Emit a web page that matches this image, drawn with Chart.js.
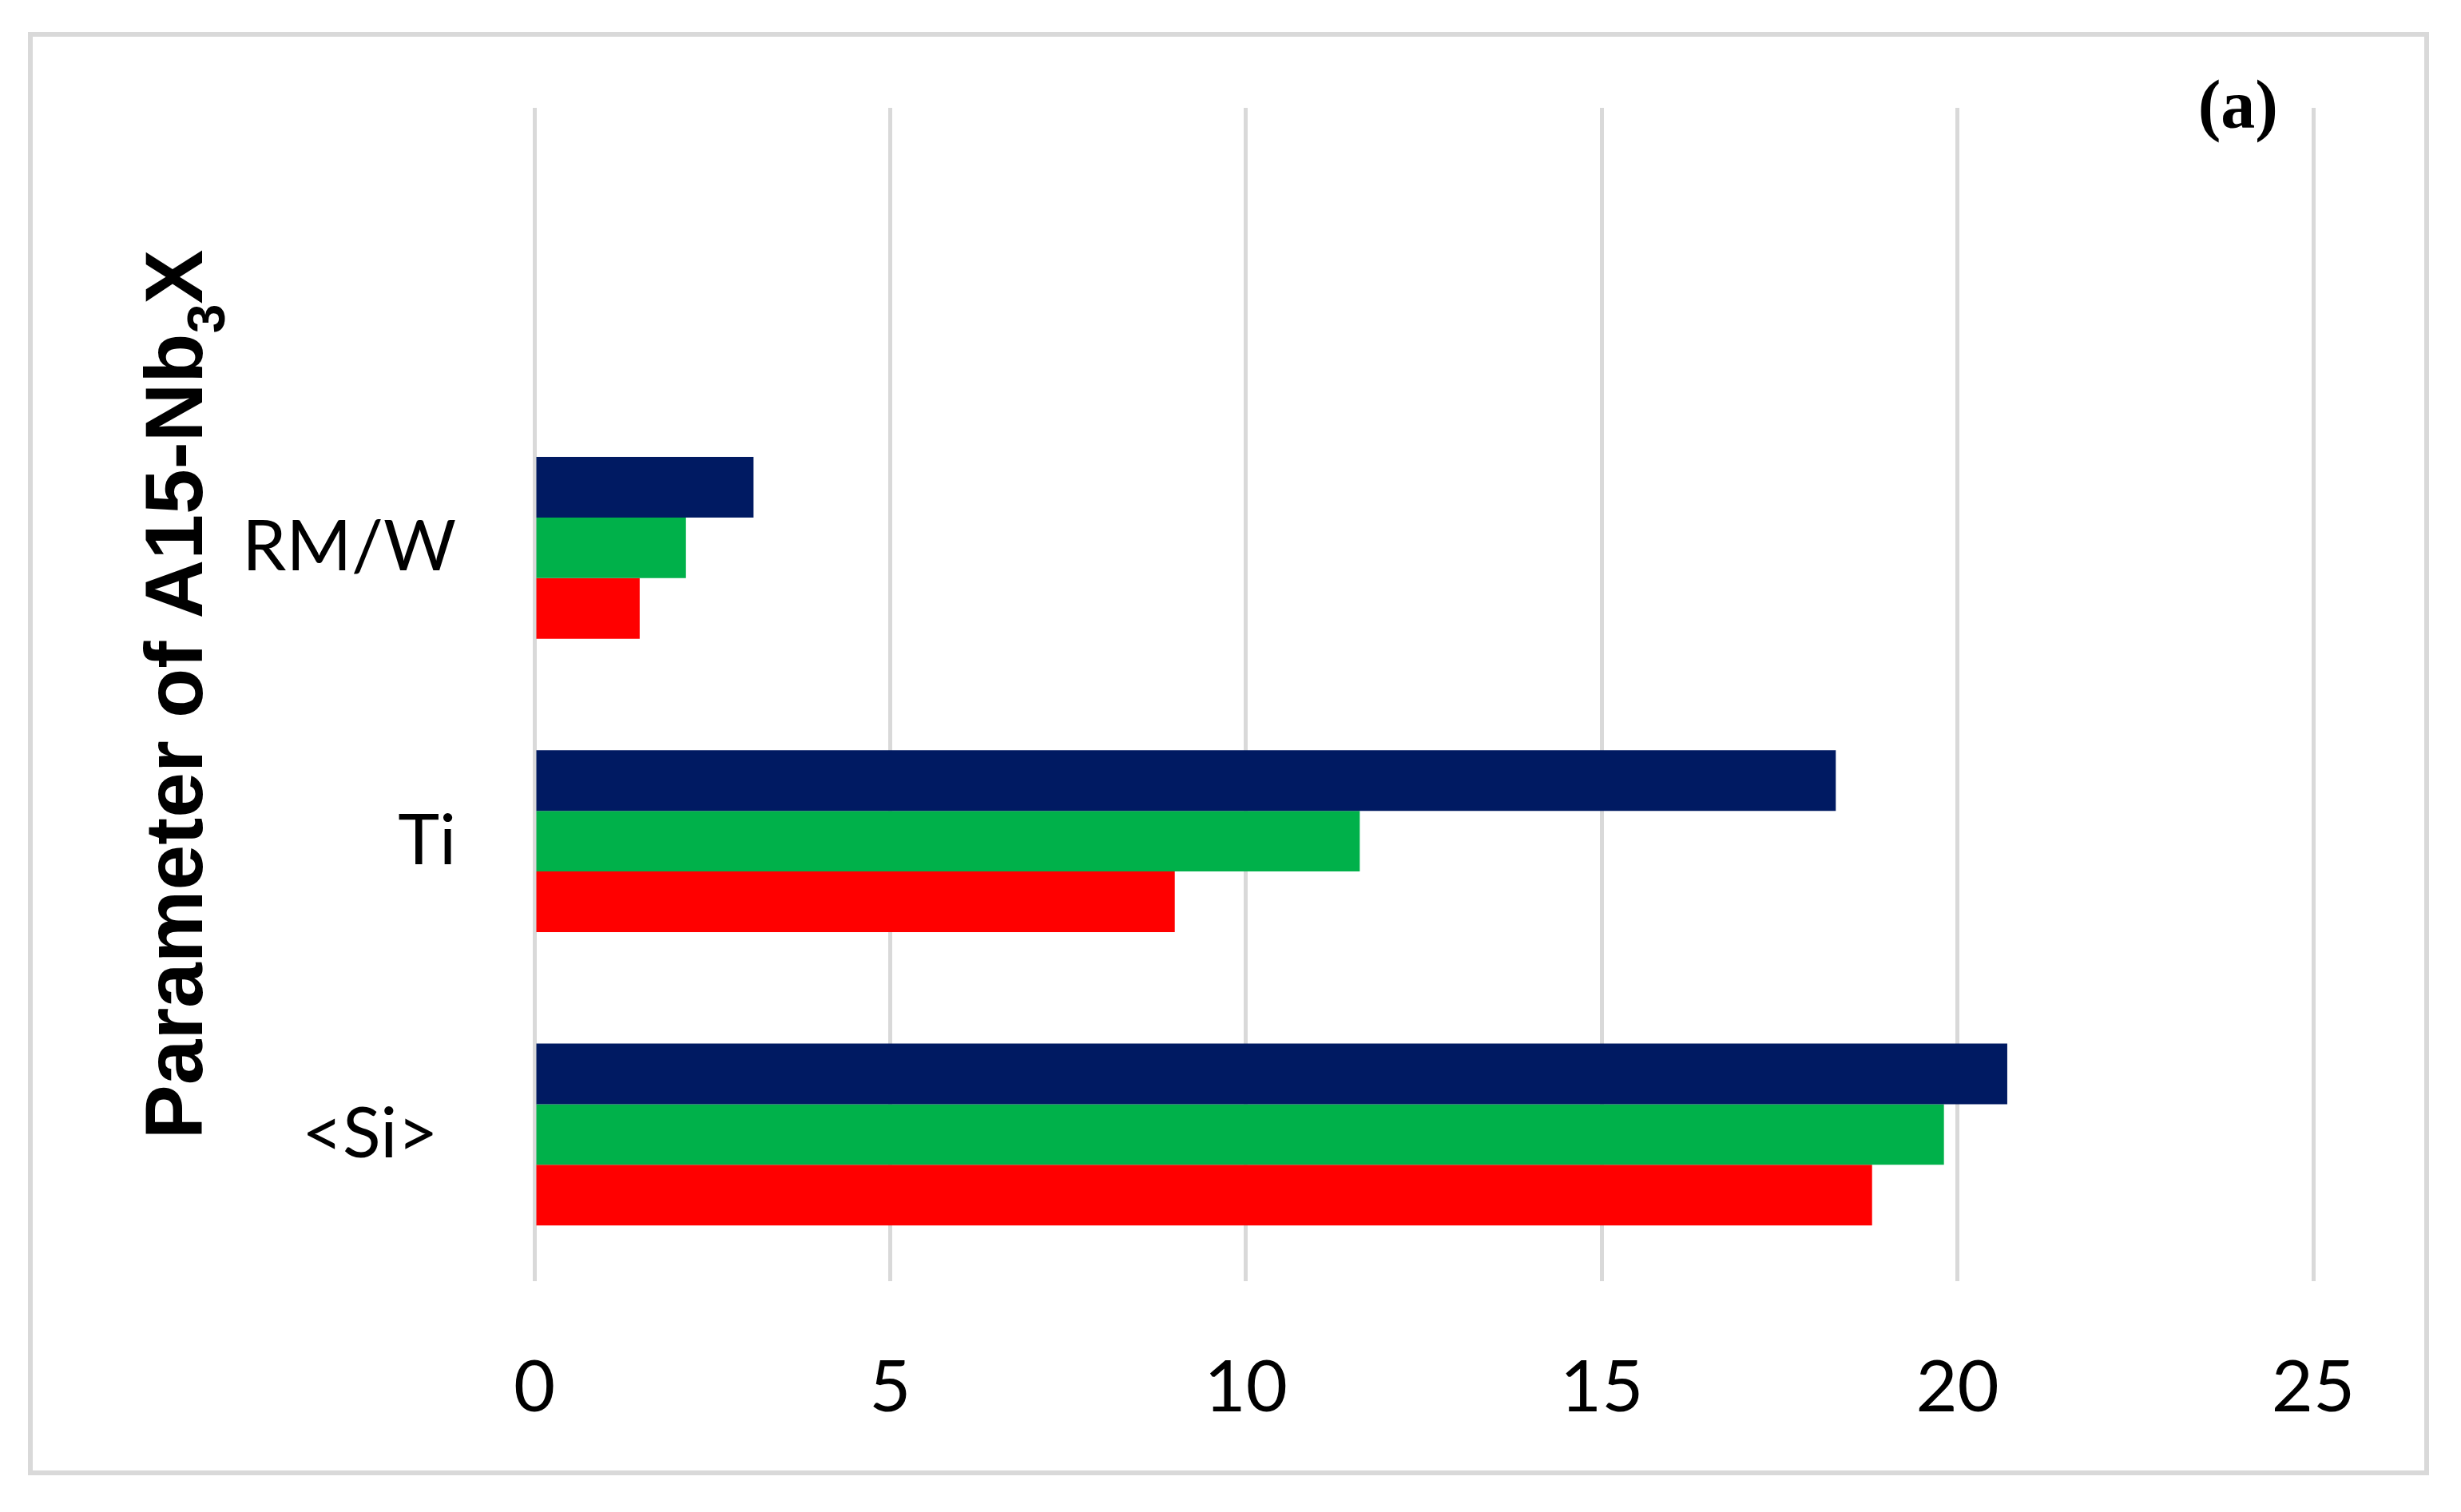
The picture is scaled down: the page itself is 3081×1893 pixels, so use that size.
<!DOCTYPE html>
<html lang="en">
<head>
    <meta charset="UTF-8">
    <title>Parameter of A15-Nb3X (a)</title>
    <script src="https://cdn.jsdelivr.net/npm/chart.js"></script>
    <style>
        * { margin: 0; padding: 0; box-sizing: border-box; }
        body { background: #fff; }
        .chart-box { position: relative; width: 3081px; height: 1893px; }
    </style>
</head>
<body>
    <div class="chart-box">
        <canvas id="paramChart"></canvas>
    </div>

    <script>
        // data (top slot is empty in the original)
        const categories = ['', 'RM/W', 'Ti', '<Si> '];
        const navySeries = [null, 3.08, 18.29, 20.70];
        const greenSeries = [null, 2.13, 11.60, 19.81];
        const redSeries = [null, 1.48, 9.00, 18.80];
        const xTicks = [0, 5, 10, 15, 20, 25];

        const labelFont = 'Lato, Calibri, sans-serif';

        // frame, panel letter and the rotated axis title with subscript
        const decorPlugin = {
            id: 'decor',
            afterDraw(chart) {
                const ctx = chart.ctx;
                const area = chart.chartArea;
                ctx.save();

                // outer light grey frame
                ctx.strokeStyle = '#d9d9d9';
                ctx.lineWidth = 6;
                ctx.strokeRect(38, 43, 3000, 1801);

                // (a)
                ctx.fillStyle = '#000';
                ctx.font = 'bold 86px "Liberation Serif", serif';
                ctx.textAlign = 'right';
                ctx.textBaseline = 'alphabetic';
                ctx.fillText('(a)', 2852, 160);

                // y axis title: Parameter of A15-Nb3X
                const big = 'bold 102px "Liberation Sans", Arial, sans-serif';
                const small = 'bold 66px "Liberation Sans", Arial, sans-serif';
                const parts = [
                    { t: 'Parameter of A15-Nb', f: big, dy: 0 },
                    { t: '3', f: small, dy: 28 },
                    { t: 'X', f: big, dy: 0 }
                ];
                let total = 0;
                parts.forEach(p => { ctx.font = p.f; p.w = ctx.measureText(p.t).width; total += p.w; });
                const cy = (area.top + area.bottom) / 2;
                ctx.translate(253, cy);
                ctx.rotate(-Math.PI / 2);
                ctx.textAlign = 'left';
                let x = -total / 2;
                parts.forEach(p => {
                    ctx.font = p.f;
                    ctx.fillText(p.t, x, p.dy);
                    x += p.w;
                });
                ctx.restore();
            }
        };

        const ctx = document.getElementById('paramChart').getContext('2d');
        new Chart(ctx, {
            type: 'bar',
            data: {
                labels: categories,
                datasets: [
                    { label: 'navy', data: navySeries, backgroundColor: '#001a62' },
                    { label: 'green', data: greenSeries, backgroundColor: '#00b14a' },
                    { label: 'red', data: redSeries, backgroundColor: '#ff0000' }
                ]
            },
            options: {
                indexAxis: 'y',
                responsive: true,
                maintainAspectRatio: false,
                animation: false,
                devicePixelRatio: 1,
                layout: {
                    padding: { top: 135, right: 185, bottom: 0, left: 0 }
                },
                datasets: {
                    bar: { categoryPercentage: 0.62, barPercentage: 1.0, borderWidth: 0 }
                },
                plugins: {
                    legend: { display: false },
                    title: { display: false },
                    tooltip: { enabled: false }
                },
                scales: {
                    x: {
                        type: 'linear',
                        min: 0,
                        max: 25,
                        afterBuildTicks(scale) {
                            scale.ticks = xTicks.map(v => ({ value: v }));
                        },
                        afterFit(scale) { scale.height = 289; },
                        grid: { color: '#d9d9d9', lineWidth: 5, drawTicks: false },
                        border: { display: false },
                        ticks: {
                            color: '#000',
                            padding: 80,
                            font: { family: labelFont, size: 90 }
                        }
                    },
                    y: {
                        afterFit(scale) {
                            scale.width = 669;
                            // keep the label padding from pushing the plot area down
                            scale.paddingTop = 0;
                            scale.paddingBottom = 0;
                        },
                        grid: { display: false, drawTicks: false },
                        border: { display: false },
                        ticks: {
                            color: '#000',
                            padding: 98,
                            font: { family: labelFont, size: 88 }
                        }
                    }
                }
            },
            plugins: [decorPlugin]
        });
    </script>
</body>
</html>
